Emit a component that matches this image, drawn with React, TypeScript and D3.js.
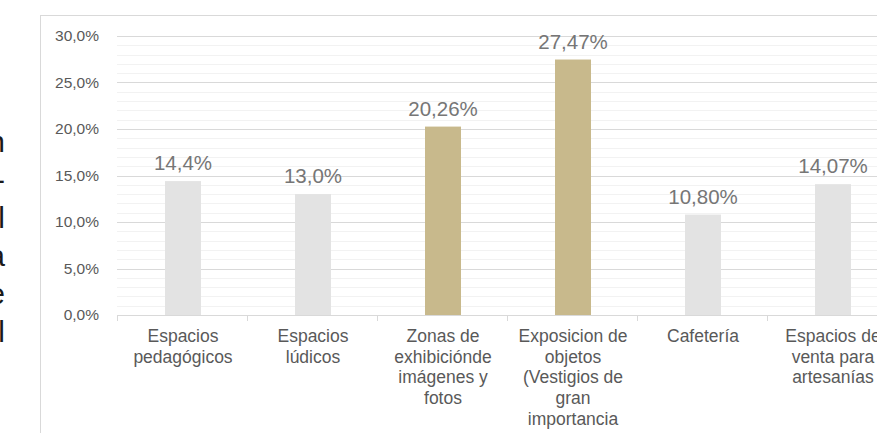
import React, { useEffect, useRef } from 'react';
import * as d3 from 'd3';

// Data
const categories: string[][] = [
  ['Espacios', 'pedagógicos'],
  ['Espacios', 'lúdicos'],
  ['Zonas de', 'exhibiciónde', 'imágenes y', 'fotos'],
  ['Exposicion de', 'objetos', '(Vestigios de', 'gran', 'importancia'],
  ['Cafetería'],
  ['Espacios de', 'venta para', 'artesanías'],
];
const values = [14.4, 13.0, 20.26, 27.47, 10.8, 14.07];
const valueLabels = ['14,4%', '13,0%', '20,26%', '27,47%', '10,80%', '14,07%'];
const highlighted = [false, false, true, true, false, false];
const yTicks = [0, 5, 10, 15, 20, 25, 30];
const yTickLabels = ['0,0%', '5,0%', '10,0%', '15,0%', '20,0%', '25,0%', '30,0%'];
const minorTicks = d3.range(0, 31, 1);
// fragments of the surrounding document text, cut at the left edge
const sideText = ['n', '-', 'l', 'a', 'e', 'l'];

const App: React.FC = () => {
  const ref = useRef<SVGSVGElement>(null);

  useEffect(() => {
    if (!ref.current) return;
    document.body.style.margin = '0';
    const svg = d3.select(ref.current);
    svg.selectAll('*').remove();

    const width = 877;
    const height = 433;
    const font = '"Liberation Sans", Arial, sans-serif';

    const left = 117;
    const step = 130;
    const x = d3.scaleBand<number>()
      .domain(values.map((_, i) => i))
      .range([left, left + step * values.length])
      .padding(0);
    const y = d3.scaleLinear().domain([0, 30]).range([315, 36]);
    const barW = x.bandwidth() * 0.277;

    svg.append('rect').attr('width', width).attr('height', height).attr('fill', '#fff');

    // side text fragments
    svg.selectAll('.side')
      .data(sideText)
      .enter()
      .append('text')
        .attr('x', 5)
        .attr('y', (_, i) => 152 + i * 38)
        .attr('text-anchor', 'end')
        .attr('font-family', font)
        .attr('font-size', '30px')
        .attr('fill', '#1a1a1a')
        .text(d => d);

    // chart frame
    svg.append('rect')
      .attr('x', 40.5)
      .attr('y', 15.5)
      .attr('width', 900)
      .attr('height', 500)
      .attr('fill', 'none')
      .attr('stroke', '#d9d9d9');

    // minor gridlines
    svg.selectAll('.minor')
      .data(minorTicks.filter(t => t % 5 !== 0))
      .enter()
      .append('line')
        .attr('x1', left)
        .attr('x2', width)
        .attr('y1', d => Math.round(y(d)) + 0.5)
        .attr('y2', d => Math.round(y(d)) + 0.5)
        .attr('stroke', '#f2f2f2');

    // major gridlines
    svg.selectAll('.major')
      .data(yTicks.filter(t => t > 0))
      .enter()
      .append('line')
        .attr('x1', left)
        .attr('x2', width)
        .attr('y1', d => Math.round(y(d)) + 0.5)
        .attr('y2', d => Math.round(y(d)) + 0.5)
        .attr('stroke', '#d9d9d9');

    // y tick labels
    svg.selectAll('.ytick')
      .data(yTicks)
      .enter()
      .append('text')
        .attr('x', 99)
        .attr('y', d => y(d))
        .attr('dy', '0.35em')
        .attr('text-anchor', 'end')
        .attr('font-family', font)
        .attr('font-size', '15.5px')
        .attr('fill', '#595959')
        .text((_, i) => yTickLabels[i]);

    // bars
    svg.selectAll('.bar')
      .data(values)
      .enter()
      .append('rect')
        .attr('x', (_, i) => (x(i) || 0) + x.bandwidth() / 2 - barW / 2 + 1)
        .attr('width', barW)
        .attr('y', d => y(d))
        .attr('height', d => y(0) - y(d))
        .attr('fill', (_, i) => (highlighted[i] ? '#c8b98c' : '#e3e3e3'));

    // value labels
    svg.selectAll('.vlabel')
      .data(values)
      .enter()
      .append('text')
        .attr('x', (_, i) => (x(i) || 0) + x.bandwidth() / 2 + 1)
        .attr('y', d => y(d) - 11)
        .attr('text-anchor', 'middle')
        .attr('font-family', font)
        .attr('font-size', '20.5px')
        .attr('fill', '#767676')
        .text((_, i) => valueLabels[i]);

    // x axis line and ticks
    svg.append('line')
      .attr('x1', left)
      .attr('x2', width)
      .attr('y1', y(0) + 0.5)
      .attr('y2', y(0) + 0.5)
      .attr('stroke', '#d9d9d9');

    svg.selectAll('.xtick')
      .data(values.map((_, i) => i))
      .enter()
      .append('line')
        .attr('x1', d => Math.round(x(d) || 0) + 0.5)
        .attr('x2', d => Math.round(x(d) || 0) + 0.5)
        .attr('y1', y(0))
        .attr('y2', y(0) + 6)
        .attr('stroke', '#d9d9d9');

    // category labels
    const cat = svg.selectAll('.cat')
      .data(categories)
      .enter()
      .append('text')
        .attr('text-anchor', 'middle')
        .attr('font-family', font)
        .attr('font-size', '17.5px')
        .attr('fill', '#595959');

    cat.selectAll('tspan')
      .data((d, i) => d.map(line => ({ line, i })))
      .enter()
      .append('tspan')
        .attr('x', d => (x(d.i) || 0) + x.bandwidth() / 2 + 1)
        .attr('y', (_, j) => 342 + j * 20.7)
        .text(d => d.line);
  }, []);

  return (
    <svg
      ref={ref}
      width={877}
      height={433}
      style={{ position: 'absolute', left: 0, top: 0, display: 'block' }}
    />
  );
};

export default App;
